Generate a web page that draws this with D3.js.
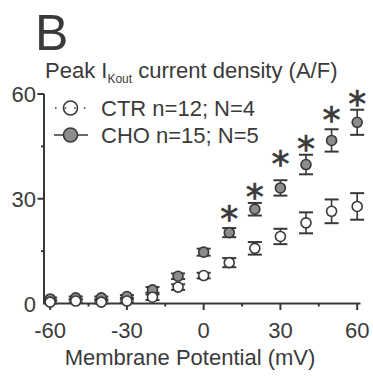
<!DOCTYPE html>
<html>
<head>
<meta charset="utf-8">
<script src="https://cdn.jsdelivr.net/npm/d3@7"></script>
<style>
  html, body { margin: 0; padding: 0; background: #fff; }
  svg text { font-family: "Liberation Sans", Arial, Helvetica, sans-serif; fill: #3a3a3a; }
  svg text.sig { font-family: "DejaVu Sans", sans-serif; stroke: #3a3a3a; stroke-width: 0.7px; }
</style>
</head>
<body>
<svg id="chart" width="373" height="376"></svg>
<script>
// Membrane potentials (mV)
const voltages = [-60, -50, -40, -30, -20, -10, 0, 10, 20, 30, 40, 50, 60];
// Peak IKout current density (A/F), mean and SEM
const ctrMean = [0.4, 0.7, 0.4, 0.7, 1.8, 4.7, 8.0, 11.7, 15.8, 19.2, 23.1, 26.4, 27.8];
const ctrSem  = [0.4, 0.4, 0.4, 0.4, 0.8, 0.8, 0.8, 1.3, 1.8, 2.2, 3.0, 3.4, 3.8];
const choMean = [1.3, 1.6, 1.6, 2.0, 3.9, 7.8, 14.7, 20.3, 27.0, 33.1, 39.8, 46.7, 51.9];
const choSem  = [0.4, 0.4, 0.4, 0.4, 0.8, 0.8, 1.0, 1.3, 1.8, 2.2, 2.8, 3.2, 3.6];
// Significance markers (potential, height in A/F)
const sigVoltages = [10, 20, 30, 40, 50, 60];
const sigHeights  = [26.1, 32.4, 41.9, 46.2, 54.5, 59.1];
// Axis ticks
const xMajorTicks = [-60, -30, 0, 30, 60];
const xMinorTicks = [-45, -15, 15, 45];
const yMajorTicks = [0, 30, 60];
const yMinorTicks = [15, 45];
const legendLabels = ["CTR n=12; N=4", "CHO n=15; N=5"];

const ink = "#383838";
const grey = "#8c8c8c";

const svg = d3.select("#chart");
const x = d3.scaleLinear().domain([-62.4, 61.3]).range([44, 360.5]);
const y = d3.scaleLinear().domain([0, 60]).range([303.5, 94]);

// Panel letter
svg.append("text").attr("x", 35).attr("y", 50)
  .attr("font-size", 50).text("B");

// Y title with subscript
const title = svg.append("text").attr("x", 45).attr("y", 77.5).attr("font-size", 22);
title.append("tspan").text("Peak I");
title.append("tspan").attr("font-size", 12).attr("dy", 5).text("Kout");
title.append("tspan").attr("dy", -5).text(" current density (A/F)");

// Y axis
const yAxis = svg.append("g").attr("transform", "translate(44,0)");
yAxis.append("line").attr("y1", y(60)).attr("y2", y(0)).attr("stroke", ink).attr("stroke-width", 2);
yAxis.selectAll("line.major").data(yMajorTicks.filter(d => d > 0)).join("line")
  .attr("x1", -6.5).attr("x2", 0).attr("y1", d => y(d)).attr("y2", d => y(d))
  .attr("stroke", ink).attr("stroke-width", 2);
yAxis.selectAll("line.minor").data(yMinorTicks).join("line").attr("class", "minor")
  .attr("x1", -3).attr("x2", 0).attr("y1", d => y(d)).attr("y2", d => y(d))
  .attr("stroke", ink).attr("stroke-width", 2);
yAxis.selectAll("text").data(yMajorTicks).join("text")
  .attr("x", -8).attr("y", d => y(d) + 8).attr("text-anchor", "end")
  .attr("font-size", 22).text(d => d);

// X axis
const xAxis = svg.append("g").attr("transform", `translate(0,${y(0)})`);
xAxis.append("line").attr("x1", x.range()[0]).attr("x2", x.range()[1])
  .attr("stroke", ink).attr("stroke-width", 2);
xAxis.selectAll("line.major").data(xMajorTicks).join("line").attr("class", "major")
  .attr("x1", d => x(d)).attr("x2", d => x(d)).attr("y1", 0).attr("y2", 6.5)
  .attr("stroke", ink).attr("stroke-width", 2);
xAxis.selectAll("line.minor").data(xMinorTicks).join("line").attr("class", "minor")
  .attr("x1", d => x(d)).attr("x2", d => x(d)).attr("y1", 0).attr("y2", 3)
  .attr("stroke", ink).attr("stroke-width", 2);
xAxis.selectAll("text").data(xMajorTicks).join("text")
  .attr("x", d => x(d)).attr("y", 34).attr("text-anchor", "middle")
  .attr("font-size", 22).text(d => d);

svg.append("text").attr("x", 190).attr("y", 365).attr("text-anchor", "middle")
  .attr("font-size", 22).text("Membrane Potential (mV)");

// Series
function drawSeries(means, sems, fill) {
  const g = svg.append("g");
  const pts = voltages.map((v, i) => ({ v, m: means[i], s: sems[i] }));
  g.selectAll("line.err").data(pts).join("line")
    .attr("x1", d => x(d.v)).attr("x2", d => x(d.v))
    .attr("y1", d => y(d.m - d.s)).attr("y2", d => y(d.m + d.s))
    .attr("stroke", ink).attr("stroke-width", 1.6);
  [-1, 1].forEach(sgn => {
    g.selectAll(`line.cap${sgn}`).data(pts).join("line")
      .attr("x1", d => x(d.v) - 7).attr("x2", d => x(d.v) + 7)
      .attr("y1", d => y(d.m + sgn * d.s)).attr("y2", d => y(d.m + sgn * d.s))
      .attr("stroke", ink).attr("stroke-width", 2);
  });
  g.selectAll("circle").data(pts).join("circle")
    .attr("cx", d => x(d.v)).attr("cy", d => y(d.m)).attr("r", 5)
    .attr("fill", fill).attr("stroke", ink).attr("stroke-width", 1.6);
}
drawSeries(choMean, choSem, grey);
drawSeries(ctrMean, ctrSem, "#fff");

// Significance asterisks
svg.selectAll("text.sig").data(sigVoltages).join("text").attr("class", "sig")
  .attr("x", d => x(d)).attr("y", (d, i) => y(sigHeights[i]) + 19)
  .attr("text-anchor", "middle").attr("font-size", 36).text("*");

// Legend
const lg = svg.append("g");
lg.append("line").attr("x1", 55).attr("x2", 87).attr("y1", 108).attr("y2", 108)
  .attr("stroke", ink).attr("stroke-width", 1.6).attr("stroke-dasharray", "1.6,8");
lg.append("circle").attr("cx", 70.5).attr("cy", 108).attr("r", 7)
  .attr("fill", "none").attr("stroke", ink).attr("stroke-width", 1.6);
lg.append("line").attr("x1", 54).attr("x2", 88).attr("y1", 135).attr("y2", 135)
  .attr("stroke", ink).attr("stroke-width", 1.6);
lg.append("circle").attr("cx", 70.5).attr("cy", 135).attr("r", 7)
  .attr("fill", grey).attr("stroke", ink).attr("stroke-width", 1.6);
lg.selectAll("text").data(legendLabels).join("text")
  .attr("x", 101).attr("y", (d, i) => 115.5 + i * 27)
  .attr("font-size", 22).text(d => d);
</script>
</body>
</html>
